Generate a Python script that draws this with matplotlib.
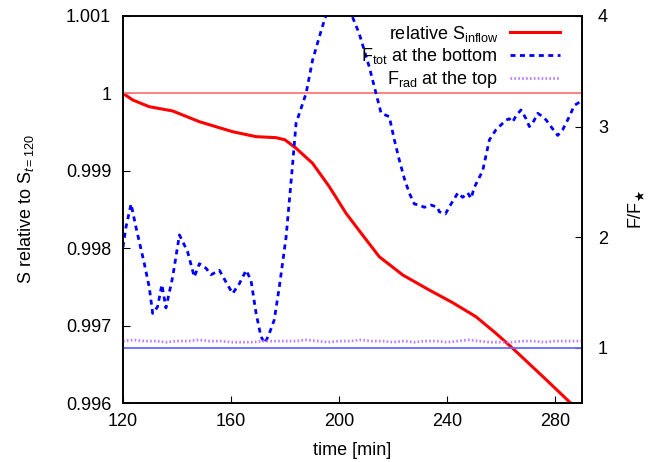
import matplotlib
matplotlib.use("Agg")
import matplotlib.pyplot as plt
from matplotlib.ticker import FuncFormatter

plt.rcParams['font.family'] = ['Liberation Sans', 'DejaVu Sans']
plt.rcParams['mathtext.fontset'] = 'custom'
plt.rcParams['mathtext.rm'] = 'Liberation Sans'
plt.rcParams['mathtext.it'] = 'Liberation Sans:italic'
plt.rcParams['mathtext.bf'] = 'Liberation Sans:bold'

# relative S_inflow (left axis)
t_s = [120, 123.6, 129.7, 138.4, 148.3, 160.6, 169.3, 176.7, 180, 184.1,
       190.2, 196.4, 202.6, 208.7, 214.9, 223.6, 233.4, 242.1, 250.7,
       258.1, 264.3, 274.2, 285.9, 290]
s_rel = [1.0, 0.999915, 0.999828, 0.999773, 0.999634, 0.999505, 0.999441,
         0.999428, 0.999400, 0.999291, 0.999097, 0.998795, 0.998451,
         0.998171, 0.997890, 0.997654, 0.997460, 0.997296, 0.997115,
         0.996901, 0.996707, 0.996384, 0.995996, 0.99587]

# F_tot at the bottom (right axis)
t_tot = [120, 121.1, 123, 124.8, 127.9, 129.7, 131, 132.8, 134.4, 135.9,
         138.4, 140.9, 143.9, 146.4, 148.3, 150.7, 152.6, 155.7, 158.7,
         160.6, 163.1, 165.6, 167.4, 169.3, 171.1, 172.6, 174.2, 176,
         177.9, 180.4, 182.6, 184.1, 187.8, 190.2, 192.7, 194.8, 197, 200,
         203, 205, 207.5, 211.2, 213.7, 215.6, 218.6, 220.5, 222.3, 224.2,
         226, 227.9, 229.7, 231.6, 234.1, 236.5, 237.1, 239.4, 241.5, 244,
         245.8, 247.7, 248.9, 250.1, 253.2, 255.7, 258.1, 261.9, 263.1,
         264.3, 265.6, 267.4, 269.3, 270.5, 271.7, 273.6, 274.8, 276.7,
         279.1, 281, 282.8, 285.3, 287.1, 289, 290]
f_tot = [1.91, 2.09, 2.30, 2.09, 1.76, 1.55, 1.31, 1.37, 1.57, 1.36,
         1.64, 2.02, 1.87, 1.64, 1.76, 1.72, 1.66, 1.70, 1.57,
         1.49, 1.58, 1.70, 1.61, 1.31, 1.10, 1.04, 1.13, 1.25,
         1.55, 2.00, 2.60, 3.03, 3.30, 3.60, 3.81, 3.98, 4.1, 4.15,
         4.1, 3.99, 3.84, 3.54, 3.30, 3.12, 3.09, 2.88, 2.70, 2.53,
         2.40, 2.30, 2.29, 2.27, 2.29, 2.27, 2.23, 2.21, 2.30, 2.40,
         2.36, 2.40, 2.35, 2.45, 2.60, 2.88, 2.97, 3.06, 3.07,
         3.04, 3.10, 3.15, 3.07, 3.00, 3.03, 3.12, 3.10, 3.06,
         2.98, 2.92, 2.97, 3.09, 3.19, 3.22, 3.24]

# F_rad at the top (right axis)
t_rad = [120, 124, 128, 132, 136, 140, 144, 148, 152, 156, 160, 164, 168,
         172, 176, 180, 184, 188, 192, 196, 200, 204, 208, 212, 216, 220,
         224, 228, 232, 236, 240, 244, 248, 252, 256, 260, 264, 268, 272,
         276, 280, 284, 288, 290]
f_rad = [1.06, 1.07, 1.06, 1.06, 1.05, 1.06, 1.06, 1.07, 1.06, 1.06, 1.05,
         1.05, 1.05, 1.06, 1.06, 1.06, 1.06, 1.07, 1.06, 1.05, 1.06, 1.06,
         1.07, 1.06, 1.06, 1.05, 1.06, 1.05, 1.06, 1.06, 1.05, 1.06, 1.07,
         1.06, 1.05, 1.05, 1.05, 1.06, 1.06, 1.05, 1.06, 1.06, 1.06, 1.06]

x_ticks = [120, 160, 200, 240, 280]
left_ticks = [0.996, 0.997, 0.998, 0.999, 1.0, 1.001]
right_ticks = [1, 2, 3, 4]

fig = plt.figure(figsize=(6.71, 4.62), dpi=100)
ax = fig.add_axes([0.1833, 0.1277, 0.6841, 0.8377])
ax2 = ax.twinx()

l1, = ax.plot(t_s, s_rel, color='red', lw=2.2, label=r'relative S$_{\mathrm{inflow}}$')
ax.axhline(1.0, color='#ff7878', lw=1.3)
l2, = ax2.plot(t_tot, f_tot, color='blue', lw=2, dashes=(1.8, 1.6),
               label=r'F$_{\mathrm{tot}}$ at the bottom')
l3, = ax2.plot(t_rad, f_rad, color='#c080ff', lw=2, dashes=(0.6, 0.8),
               label=r'F$_{\mathrm{rad}}$ at the top')
ax2.axhline(1.0, color='#6868ff', lw=1.3)

ax.set_xlim(120, 290)
ax.set_ylim(0.996, 1.001)
ax2.set_ylim(0.5, 4)
ax.set_xticks(x_ticks)
ax.set_yticks(left_ticks)
ax2.set_yticks(right_ticks)
ax.yaxis.set_major_formatter(FuncFormatter(lambda v, p: '%g' % round(v, 4)))

ax.tick_params(axis='y', direction='in', length=5, labelsize=13, pad=8.5, right=False)
ax.tick_params(axis='x', direction='in', length=5, labelsize=13, pad=7, top=False)
ax2.tick_params(axis='y', direction='in', length=5, labelsize=13, pad=11.5)
for a in (ax, ax2):
    for sp in a.spines.values():
        sp.set_linewidth(1.2)

ax.set_xlabel('time [min]', fontsize=13)
ax.set_ylabel(r'S relative to S$_{t=120}$', fontsize=13)
ax2.set_ylabel(r'F/F$_{\bigstar}$', fontsize=13)
ax.xaxis.set_label_coords(0.5, -0.1)
ax.yaxis.set_label_coords(-0.19, 0.5)
ax2.yaxis.set_label_coords(1.098, 0.5)

ax2.legend(handles=[l1, l2, l3], loc='upper right', bbox_to_anchor=(1, 1.036),
           frameon=False, markerfirst=False, fontsize=13, handlelength=2.8,
           handletextpad=0.65, borderaxespad=0.8, labelspacing=0.15)

fig.savefig('out.png', dpi=100)
